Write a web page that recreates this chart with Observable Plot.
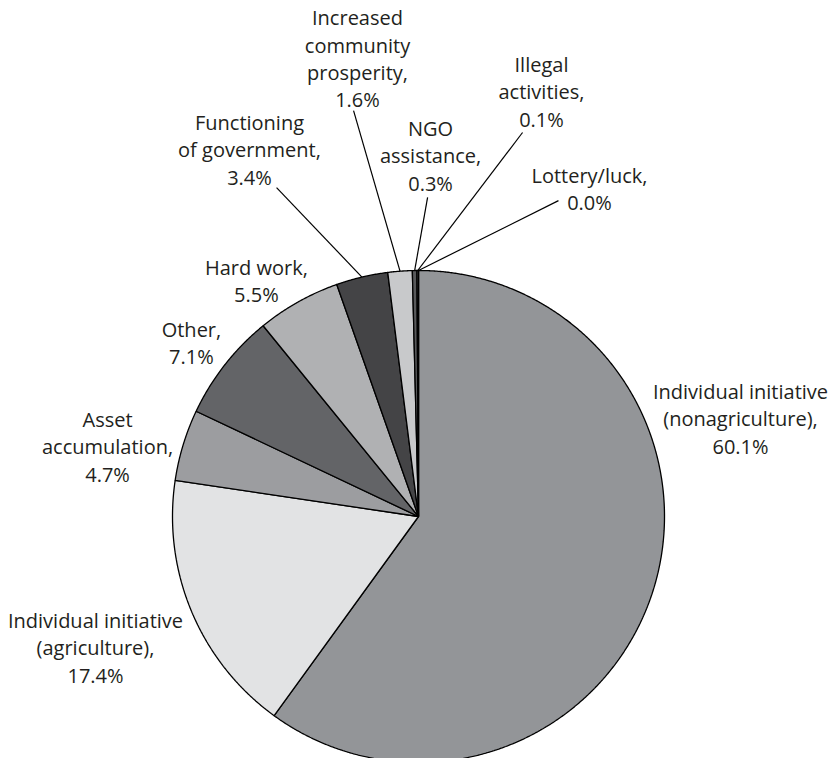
<!DOCTYPE html>
<html>
<head>
<meta charset="utf-8">
<script src="https://cdn.jsdelivr.net/npm/d3@7"></script>
<script src="https://cdn.jsdelivr.net/npm/@observablehq/plot@0.6"></script>
<style>
  html, body { margin: 0; padding: 0; background: #fff; }
  #chart svg { display: block; }
</style>
</head>
<body>
<div id="chart"></div>
<script>
// ---- data ----
const categories = [
  "Individual initiative (nonagriculture)",
  "Individual initiative (agriculture)",
  "Asset accumulation",
  "Other",
  "Hard work",
  "Functioning of government",
  "Increased community prosperity",
  "NGO assistance",
  "Illegal activities",
  "Lottery/luck"
];
const shares = [60.1, 17.4, 4.7, 7.1, 5.5, 3.4, 1.6, 0.3, 0.1, 0.0];
const labelLines = [
  ["Individual initiative", "(nonagriculture),"],
  ["Individual initiative", "(agriculture),"],
  ["Asset", "accumulation,"],
  ["Other,"],
  ["Hard work,"],
  ["Functioning", "of government,"],
  ["Increased", "community", "prosperity,"],
  ["NGO", "assistance,"],
  ["Illegal", "activities,"],
  ["Lottery/luck,"]
];

// ---- styles / layout (not data) ----
const fills = ["#939598", "#e2e3e4", "#9c9da0", "#636467", "#b0b1b3",
               "#444446", "#c8c9cb", "#58595b", "#8a8b8d", "#e6e7e8"];
// label block centres, in pie-radius units from the pie centre (y up)
const labelPos = [
  [1.309, 0.402], [-1.313, -0.528], [-1.264, 0.289], [-0.923, 0.711],
  [-0.659, 0.963], [-0.687, 1.496], [-0.248, 1.866], [0.049, 1.472],
  [0.500, 1.732], [0.695, 1.337]
];
// leader-line start (label side), pie-radius units; null = no leader
const leaderStart = [null, null, null, null, null,
  [-0.577, 1.337], [-0.264, 1.650], [0.037, 1.297], [0.423, 1.561], [0.569, 1.284]];

const W = 833, H = 758, R = 246, CX = 418, CY = 516;

// ---- build geometry through d3.pie ----
const rows = categories.map((c, i) => ({i, name: c, share: shares[i], fill: fills[i]}));
const arcs = d3.pie().sort(null).value(d => d.share).startAngle(0).endAngle(2 * Math.PI)(rows);

const slicePts = [];
arcs.forEach(a => {
  const n = Math.max(2, Math.ceil((a.endAngle - a.startAngle) / 0.005));
  slicePts.push({k: a.data.i, fill: a.data.fill, x: 0, y: 0});
  for (let j = 0; j <= n; j++) {
    const t = a.startAngle + (a.endAngle - a.startAngle) * j / n;
    slicePts.push({k: a.data.i, fill: a.data.fill, x: Math.sin(t), y: Math.cos(t)});
  }
});

const labels = arcs.map(a => ({
  text: [...labelLines[a.data.i], a.data.share.toFixed(1) + "%"].join("\n"),
  x: labelPos[a.data.i][0],
  y: labelPos[a.data.i][1]
}));

const leaders = arcs.filter(a => leaderStart[a.data.i]).map(a => {
  const m = (a.startAngle + a.endAngle) / 2;
  return {x1: leaderStart[a.data.i][0], y1: leaderStart[a.data.i][1], x2: Math.sin(m), y2: Math.cos(m)};
});

const chart = Plot.plot({
  width: W, height: H,
  margin: 0,
  x: {domain: [-CX / R, (W - CX) / R], axis: null},
  y: {domain: [-(H - CY) / R, CY / R], axis: null},
  color: {type: "identity"},
  style: {fontFamily: "'Open Sans', Lato, sans-serif", background: "#fff"},
  marks: [
    Plot.line(slicePts, {x: "x", y: "y", z: "k", fill: "fill", stroke: "#000",
      strokeWidth: 1.3, curve: "linear-closed", strokeLinejoin: "miter"}),
    Plot.link(leaders, {x1: "x1", y1: "y1", x2: "x2", y2: "y2", stroke: "#000", strokeWidth: 1.2}),
    Plot.text(labels, {x: "x", y: "y", text: "text", fontSize: 20, lineHeight: 1.37,
      lineAnchor: "middle", textAnchor: "middle", fill: "#231f20"})
  ]
});
document.getElementById("chart").appendChild(chart);
</script>
</body>
</html>
